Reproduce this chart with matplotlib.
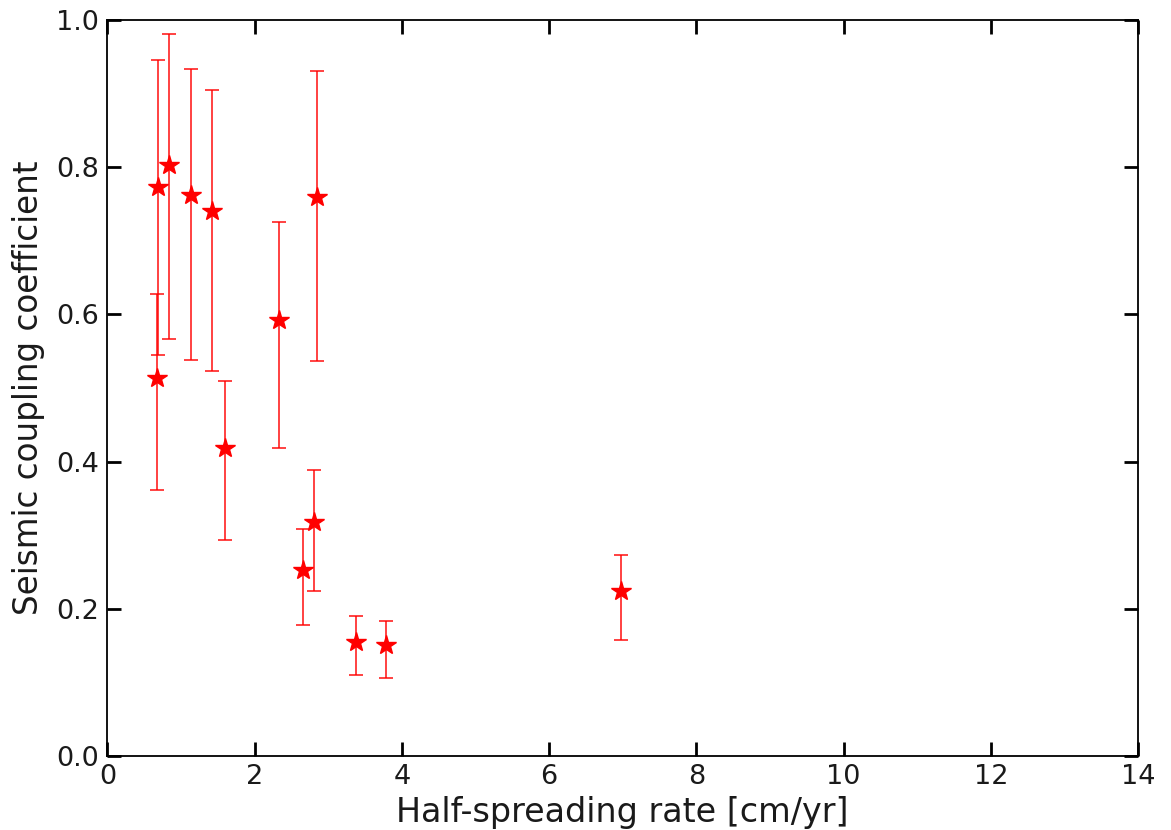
import matplotlib
matplotlib.use("Agg")
import matplotlib.pyplot as plt
import numpy as np

# half-spreading rate [cm/yr] and seismic coupling coefficient
rate = [0.67, 0.69, 0.83, 1.14, 1.42, 1.59, 2.33, 2.85, 2.65, 2.80, 3.38, 3.78, 6.98]
coupling = [0.514, 0.773, 0.803, 0.762, 0.740, 0.418, 0.592, 0.760, 0.253, 0.318, 0.155, 0.151, 0.224]
err_low = [0.153, 0.228, 0.236, 0.224, 0.217, 0.124, 0.174, 0.223, 0.075, 0.094, 0.045, 0.045, 0.067]
err_high = [0.114, 0.173, 0.178, 0.171, 0.165, 0.092, 0.133, 0.171, 0.055, 0.070, 0.035, 0.032, 0.049]

fig = plt.figure(figsize=(11.71, 8.30), dpi=100)
ax1 = fig.add_axes([0.0918, 0.0892, 0.880, 0.8867])

ax1.errorbar(rate, coupling, yerr=[err_low, err_high], fmt='*', color='red',
             ecolor=(1, 0, 0, 0.8), markersize=15, capsize=5, elinewidth=1.3,
             capthick=1.3, markeredgecolor='red')

ax1.set_xlim(0, 14)
ax1.set_ylim(0, 1)
ax1.set_xticks(np.arange(0, 15, 2))
ax1.set_yticks(np.arange(0, 1.01, 0.2))
ax1.set_yticklabels(["%.1f" % v for v in np.arange(0, 1.01, 0.2)])
ax1.tick_params(direction='in', length=10, width=2, labelsize=19.5,
                top=True, right=True, pad=6, labelcolor='#1a1a1a')
for sp in ax1.spines.values():
    sp.set_linewidth(1.3)
ax1.set_xlabel("Half-spreading rate [cm/yr]", fontsize=24, labelpad=4, color='#1a1a1a')
ax1.set_ylabel("Seismic coupling coefficient", fontsize=23.5, labelpad=8, color='#1a1a1a')

fig.savefig("out.png", dpi=100)
